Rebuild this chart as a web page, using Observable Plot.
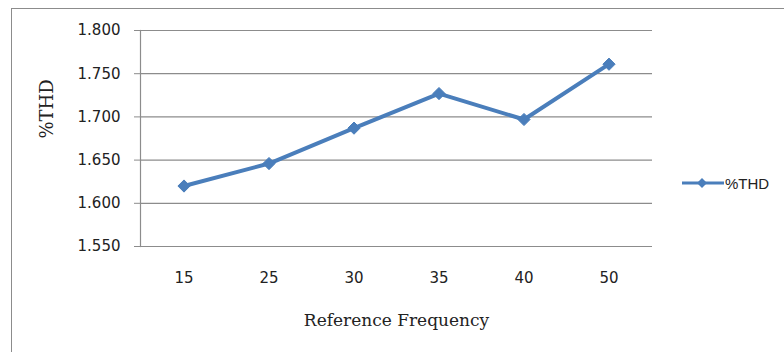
<!DOCTYPE html>
<html>
<head>
<meta charset="utf-8">
<script src="https://cdn.jsdelivr.net/npm/d3@7"></script>
<script src="https://cdn.jsdelivr.net/npm/@observablehq/plot@0.6"></script>
<style>
  html, body { margin: 0; padding: 0; background: #fff; overflow: hidden; width: 784px; height: 352px; }
  #wrap { position: relative; width: 784px; height: 352px; }
  #border { position: absolute; left: 11px; top: 8px; width: 900px; height: 500px; border: 1px solid #8c8c8c; box-sizing: border-box; }
  #chart { position: absolute; left: 0; top: 0; }
  #legend { position: absolute; left: 682px; top: 173px; display: flex; align-items: center; font-family: "Liberation Sans", Arial, sans-serif; font-size: 15px; color: #222; }
</style>
</head>
<body>
<div id="wrap">
  <div id="border"></div>
  <div id="chart"></div>
  <div id="legend"></div>
</div>
<script>
const categories = ["15", "25", "30", "35", "40", "50"];
const thdValues = [1.620, 1.646, 1.687, 1.727, 1.697, 1.761];
const yTicks = [1.55, 1.60, 1.65, 1.70, 1.75, 1.80];
const seriesName = "%THD";
const xTitle = "Reference Frequency";
const yTitle = "%THD";

const color = "#4a7ebb";
const data = categories.map((c, i) => ({freq: c, thd: thdValues[i]}));

const chart = Plot.plot({
  width: 784,
  height: 352,
  marginLeft: 140,
  marginRight: 132,
  marginTop: 30,
  marginBottom: 106,
  x: {type: "band", domain: categories, padding: 0},
  y: {domain: [1.55, 1.80]},
  style: {background: "transparent"},
  marks: [
    Plot.gridY(yTicks, {stroke: "#8c8c8c", strokeOpacity: 1, strokeWidth: 1.2}),
    Plot.axisY(yTicks, {
      tickFormat: d3.format(".3f"), tickSize: 6, tickPadding: 14,
      fontSize: 15, fontFamily: "DejaVu Sans, Verdana, sans-serif",
      stroke: "#8c8c8c", fill: "#222", label: null
    }),
    Plot.axisX({
      tickSize: 0, tickPadding: 26, fontSize: 15,
      fontFamily: "DejaVu Sans, Verdana, sans-serif", fill: "#222", label: null
    }),
    Plot.frame({anchor: "left", stroke: "#8c8c8c", strokeWidth: 1.2}),
    Plot.text([xTitle], {frameAnchor: "bottom", dy: 74, fontSize: 17,
      fontFamily: "DejaVu Serif, Cambria, serif", fill: "#222", lineAnchor: "middle"}),
    Plot.text([yTitle], {frameAnchor: "left", dx: -93, rotate: -90, fontSize: 18,
      fontFamily: "DejaVu Serif, Cambria, serif", fill: "#222", lineAnchor: "middle"}),
    Plot.line(data, {x: "freq", y: "thd", stroke: color, strokeWidth: 4}),
    Plot.dot(data, {x: "freq", y: "thd", symbol: "diamond2", r: 5.5, fill: color, stroke: color, strokeWidth: 1})
  ]
});
document.getElementById("chart").appendChild(chart);

// legend
const lg = document.getElementById("legend");
const ns = "http://www.w3.org/2000/svg";
const sw = document.createElementNS(ns, "svg");
sw.setAttribute("width", 42); sw.setAttribute("height", 20);
sw.innerHTML = `<line x1="0" y1="10" x2="42" y2="10" stroke="${color}" stroke-width="3"/>` +
  `<path d="M20,5 L25,10 L20,15 L15,10 Z" fill="${color}"/>`;
lg.appendChild(sw);
const sp = document.createElement("span");
sp.textContent = seriesName;
sp.style.marginLeft = "1px";
lg.appendChild(sp);
</script>
</body>
</html>
